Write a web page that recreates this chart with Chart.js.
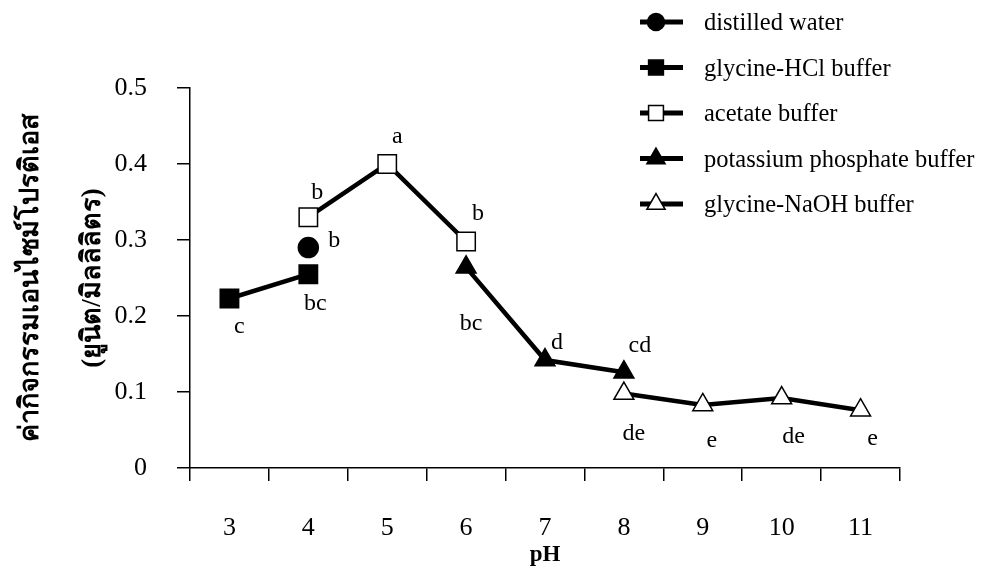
<!DOCTYPE html>
<html>
<head>
<meta charset="utf-8" />
<title>Protease activity vs pH</title>
<style>
  html, body { margin: 0; padding: 0; background: #fff; }
  #wrap { width: 982px; height: 569px; }
</style>
</head>
<body>
<div id="wrap"><canvas id="ph-chart" width="982" height="569"></canvas></div>
<script src="https://cdn.jsdelivr.net/npm/chart.js"></script>
<script>
// pH categories on the x axis
const phLabels = ["3", "4", "5", "6", "7", "8", "9", "10", "11"];

// protease activity (unit/ml), null where the buffer was not used
const waterValues     = [null, 0.29, null, null, null, null, null, null, null];
const hclValues       = [0.223, 0.255, null, null, null, null, null, null, null];
const acetateValues   = [null, 0.33, 0.40, 0.298, null, null, null, null, null];
const phosphateValues = [null, null, null, 0.264, 0.142, 0.126, null, null, null];
const naohValues      = [null, null, null, null, null, 0.098, 0.083, 0.092, 0.076];

// significance letters written next to the points
const waterLetters     = [null, "b", null, null, null, null, null, null, null];
const hclLetters       = ["c", "bc", null, null, null, null, null, null, null];
const acetateLetters   = [null, "b", "a", "b", null, null, null, null, null];
const phosphateLetters = [null, null, null, "bc", "d", "cd", null, null, null];
const naohLetters      = [null, null, null, null, null, "de", "e", "de", "e"];

const seriesNames = ["distilled water", "glycine-HCl buffer", "acetate buffer",
  "potassium phosphate buffer", "glycine-NaOH buffer"];

const yTitle = ["ค่ากิจกรรมเอนไซม์โปรติเอส", "(ยูนิต/มิลลิลิตร)"];
const xTitle = "pH";

const serif = "'Liberation Serif', 'Times New Roman', serif";

function series(name, values, letters, style, fill, radius, offsets) {
  return {
    label: name,
    data: values,
    letters: letters,
    letterOffsets: offsets,
    borderColor: "#000",
    borderWidth: 4.5,
    pointStyle: style,
    pointRadius: radius,
    pointHoverRadius: radius,
    pointBackgroundColor: fill,
    pointBorderColor: "#000",
    pointBorderWidth: 1.5,
    spanGaps: false,
    fill: false,
    tension: 0
  };
}

const datasets = [
  series(seriesNames[0], waterValues, waterLetters, "circle", "#000", 10, {1: [26, -7]}),
  series(seriesNames[1], hclValues, hclLetters, "rect", "#000", 13, {0: [10, 28], 1: [7, 30]}),
  series(seriesNames[2], acetateValues, acetateLetters, "rect", "#fff", 13, {1: [9, -24], 2: [10, -27], 3: [12, -28]}),
  series(seriesNames[3], phosphateValues, phosphateLetters, "triangle", "#000", 11.5, {3: [5, 56], 4: [12, -17], 5: [16, -27]}),
  series(seriesNames[4], naohValues, naohLetters, "triangle", "#fff", 11.5, {5: [10, 40], 6: [9, 36], 7: [12, 39], 8: [12, 28]})
];

// letters beside the points
const letterPlugin = {
  id: "letters",
  afterDatasetsDraw(chart) {
    const ctx = chart.ctx;
    ctx.save();
    ctx.font = "24px " + serif;
    ctx.fillStyle = "#000";
    ctx.textAlign = "center";
    ctx.textBaseline = "middle";
    chart.data.datasets.forEach((ds, i) => {
      const meta = chart.getDatasetMeta(i);
      ds.letters.forEach((t, j) => {
        if (!t) return;
        const pt = meta.data[j];
        const off = ds.letterOffsets[j];
        ctx.fillText(t, pt.x + off[0], pt.y + off[1]);
      });
    });
    ctx.restore();
  }
};

// legend in the top right corner: line sample, marker, name
const legendPlugin = {
  id: "cornerLegend",
  afterDraw(chart) {
    const ctx = chart.ctx;
    ctx.save();
    chart.data.datasets.forEach((ds, i) => {
      const y = 22 + i * 45.5;
      ctx.strokeStyle = "#000";
      ctx.lineWidth = 5;
      ctx.beginPath();
      ctx.moveTo(640, y);
      ctx.lineTo(683, y);
      ctx.stroke();
      ctx.lineWidth = 1.5;
      ctx.fillStyle = ds.pointBackgroundColor;
      Chart.helpers.drawPoint(ctx, {
        pointStyle: ds.pointStyle,
        radius: ds.pointStyle === "circle" ? 8.5 : 10.5,
        borderWidth: 1.5,
        rotation: 0
      }, 656, y);
      ctx.fillStyle = "#000";
      ctx.font = "24.5px " + serif;
      ctx.textAlign = "left";
      ctx.textBaseline = "middle";
      ctx.fillText(ds.label, 704, y + 2);
    });
    ctx.restore();
  }
};

new Chart(document.getElementById("ph-chart"), {
  type: "line",
  data: { labels: phLabels, datasets: datasets },
  plugins: [letterPlugin, legendPlugin],
  options: {
    responsive: false,
    animation: false,
    clip: false,
    layout: { padding: { top: 88, right: 82, left: 0, bottom: 0 } },
    plugins: { legend: { display: false }, tooltip: { enabled: false } },
    scales: {
      x: {
        type: "category",
        offset: true,
        afterFit: s => { s.height = 101; },
        grid: { offset: true, drawOnChartArea: false, tickLength: 13, color: "#000", lineWidth: 1.5 },
        border: { color: "#000", width: 1.5 },
        ticks: { color: "#000", font: { family: serif, size: 26 }, padding: 32, maxRotation: 0 },
        title: { display: true, text: xTitle, color: "#000", font: { family: serif, size: 23, weight: "bold" }, padding: 0 }
      },
      y: {
        min: 0,
        max: 0.5,
        afterFit: s => { s.width = 190; },
        grid: { drawOnChartArea: false, tickLength: 13, color: "#000", lineWidth: 1.5 },
        border: { color: "#000", width: 1.5 },
        ticks: { stepSize: 0.1, color: "#000", font: { family: serif, size: 26 }, padding: 30 },
        title: { display: true, text: yTitle, color: "#000", font: { family: serif, size: 27, weight: "bold", lineHeight: 2.3 }, padding: 0 }
      }
    }
  }
});
</script>
</body>
</html>
